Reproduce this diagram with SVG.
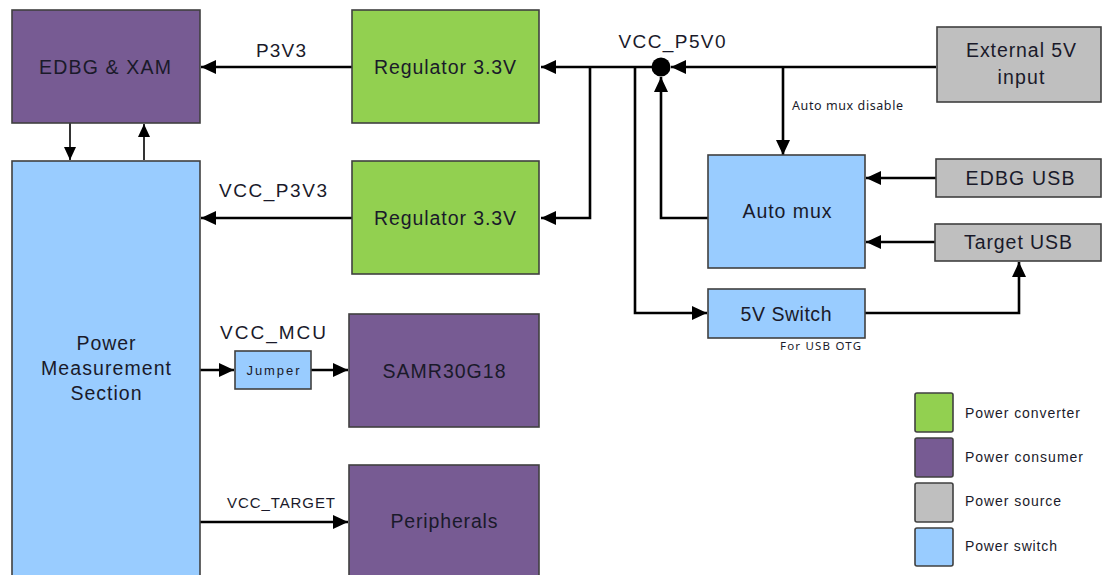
<svg xmlns="http://www.w3.org/2000/svg" width="1104" height="575" viewBox="0 0 1104 575">
<style>
.box{stroke:#404040;stroke-width:1.6}
.conv{fill:#92d050}.cons{fill:#775b93}.src{fill:#bfbfbf}.sw{fill:#99ccff}
text{font-family:"Liberation Sans",Arial,sans-serif;fill:#1a1a2a}
.t{font-size:19.5px;text-anchor:middle}
.l{font-size:19px;text-anchor:middle}
.s{font-family:"Noto Sans","Open Sans",sans-serif;font-size:12.5px}
.lg{font-size:14px}
.c{fill:none;stroke:#000;stroke-width:2.6}
.c2{fill:none;stroke:#000;stroke-width:1.6}
</style>
<defs>
<marker id="a" markerUnits="userSpaceOnUse" markerWidth="16" markerHeight="14" refX="15" refY="7" orient="auto"><path d="M0,0 L15,7 L0,14 z" fill="#000"/></marker>
<marker id="b" markerUnits="userSpaceOnUse" markerWidth="14" markerHeight="12" refX="13" refY="6" orient="auto"><path d="M0,0 L13,6 L0,12 z" fill="#000"/></marker>
</defs>
<g id="connectors">
<path class="c" d="M352,67 H201" marker-end="url(#a)"/>
<path class="c2" d="M70,123 V160" marker-end="url(#b)"/>
<path class="c2" d="M144,160 V124" marker-end="url(#b)"/>
<path class="c" d="M655,67 H541" marker-end="url(#a)"/>
<path class="c" d="M936,67 H671" marker-end="url(#a)"/>
<path class="c" d="M783,67 V155" marker-end="url(#a)"/>
<path class="c" d="M590,67 V218 H541" marker-end="url(#a)"/>
<path class="c" d="M708,218 H661 V77" marker-end="url(#a)"/>
<path class="c" d="M635,67 V313 H707" marker-end="url(#a)"/>
<path class="c" d="M864,313 H1019 V262" marker-end="url(#a)"/>
<path class="c" d="M936,178 H866" marker-end="url(#a)"/>
<path class="c" d="M935,242 H866" marker-end="url(#a)"/>
<path class="c" d="M352,218 H201" marker-end="url(#a)"/>
<path class="c" d="M200,370 H234" marker-end="url(#a)"/>
<path class="c" d="M311,370 H348" marker-end="url(#a)"/>
<path class="c" d="M200,522 H348" marker-end="url(#a)"/>
<circle cx="661" cy="67" r="9.5" fill="#000"/>
<text class="l" x="281" y="57" textLength="50" lengthAdjust="spacing">P3V3</text>
<text class="l" x="672" y="48" textLength="107" lengthAdjust="spacing">VCC_P5V0</text>
<text class="s" x="792" y="110" textLength="111" lengthAdjust="spacing">Auto mux disable</text>
<text class="l" x="273" y="197" textLength="108" lengthAdjust="spacing">VCC_P3V3</text>
<text class="l" x="273" y="339" textLength="106" lengthAdjust="spacing">VCC_MCU</text>
<text x="281" y="508" style="font-size:15px;text-anchor:middle" textLength="108" lengthAdjust="spacing">VCC_TARGET</text>
<text class="s" x="780" y="350" style="font-size:11.5px" textLength="81" lengthAdjust="spacing">For USB OTG</text>
</g>
<g id="edbg-xam"><rect class="box cons" x="12" y="10" width="188" height="113"/><text class="t" x="105" y="74" textLength="132" lengthAdjust="spacing">EDBG &amp; XAM</text></g>
<g id="regulator1"><rect class="box conv" x="352" y="10" width="187" height="113"/><text class="t" x="445" y="74" textLength="142" lengthAdjust="spacing">Regulator 3.3V</text></g>
<g id="regulator2"><rect class="box conv" x="352" y="161" width="187" height="113"/><text class="t" x="445" y="225" textLength="142" lengthAdjust="spacing">Regulator 3.3V</text></g>
<g id="power-measurement"><rect class="box sw" x="12" y="161" width="188" height="420"/>
<text class="t" x="106" y="350" textLength="59" lengthAdjust="spacing">Power</text>
<text class="t" x="106" y="375" textLength="130" lengthAdjust="spacing">Measurement</text>
<text class="t" x="106" y="400" textLength="71" lengthAdjust="spacing">Section</text></g>
<g id="jumper"><rect class="box sw" x="235" y="351" width="76" height="38"/><text x="273" y="375" style="font-size:13px;text-anchor:middle" textLength="53" lengthAdjust="spacing">Jumper</text></g>
<g id="samr30g18"><rect class="box cons" x="349" y="314" width="190" height="113"/><text class="t" x="444" y="378" textLength="123" lengthAdjust="spacing">SAMR30G18</text></g>
<g id="peripherals"><rect class="box cons" x="349" y="465" width="190" height="116"/><text class="t" x="444" y="528" textLength="107" lengthAdjust="spacing">Peripherals</text></g>
<g id="external-5v"><rect class="box src" x="937" y="27" width="164" height="75"/>
<text class="t" x="1021" y="57" textLength="110" lengthAdjust="spacing">External 5V</text>
<text class="t" x="1021" y="84" textLength="47" lengthAdjust="spacing">input</text></g>
<g id="auto-mux"><rect class="box sw" x="708" y="155" width="157" height="113"/><text class="t" x="787" y="218" textLength="89" lengthAdjust="spacing">Auto mux</text></g>
<g id="edbg-usb"><rect class="box src" x="936" y="159" width="165" height="38"/><text class="t" x="1020" y="185" textLength="109" lengthAdjust="spacing">EDBG USB</text></g>
<g id="target-usb"><rect class="box src" x="935" y="224" width="166" height="37"/><text class="t" x="1018" y="249" textLength="108" lengthAdjust="spacing">Target USB</text></g>
<g id="switch-5v"><rect class="box sw" x="708" y="289" width="157" height="49"/><text class="t" x="786" y="321" textLength="91" lengthAdjust="spacing">5V Switch</text></g>
<g id="legend">
<rect class="box conv" x="915" y="393" width="38" height="39" rx="2"/>
<rect class="box cons" x="915" y="438" width="38" height="39" rx="2"/>
<rect class="box src" x="915" y="483" width="38" height="39" rx="2"/>
<rect class="box sw" x="915" y="528" width="38" height="38" rx="2"/>
<text class="lg" x="965" y="418" textLength="115" lengthAdjust="spacing">Power converter</text>
<text class="lg" x="965" y="462" textLength="118" lengthAdjust="spacing">Power consumer</text>
<text class="lg" x="965" y="506" textLength="96" lengthAdjust="spacing">Power source</text>
<text class="lg" x="965" y="551" textLength="92" lengthAdjust="spacing">Power switch</text>
</g>
</svg>
